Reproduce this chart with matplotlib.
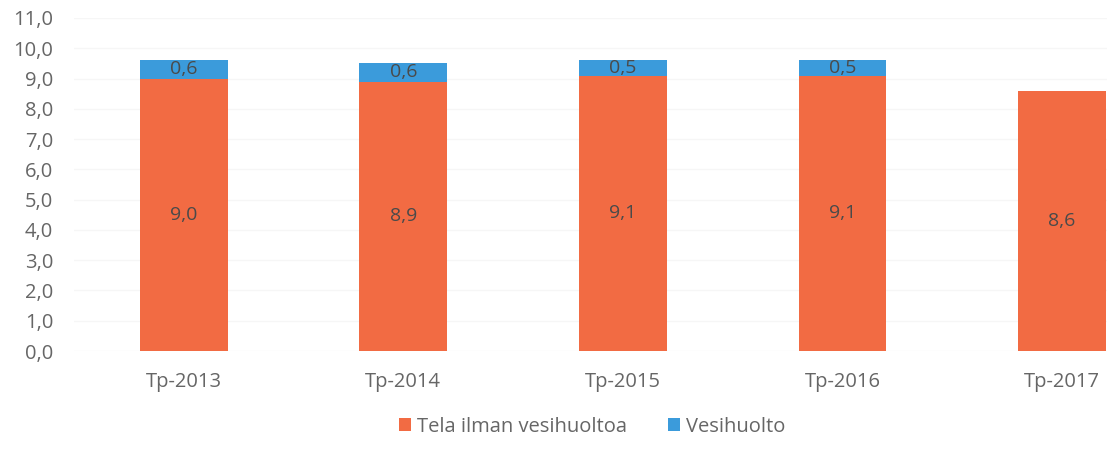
import matplotlib
matplotlib.use("Agg")
import matplotlib.pyplot as plt
import numpy as np

categories = ["Tp-2013", "Tp-2014", "Tp-2015", "Tp-2016", "Tp-2017"]
tela = [9.0, 8.9, 9.1, 9.1, 8.6]
vesihuolto = [0.6, 0.6, 0.5, 0.5, 0.0]
yticks = np.arange(0, 11.5, 1.0)

orange = "#F26B43"
blue = "#3B9BDB"
grey = "#666666"

plt.rcParams['font.family'] = ['Open Sans', 'DejaVu Sans']

fig = plt.figure(figsize=(11.07, 4.5), dpi=100)
ax = fig.add_axes([74 / 1107, 99 / 450, 1 - 74 / 1107, (351 - 18) / 450])

x = np.arange(len(categories))
width = 0.4
b1 = ax.bar(x, tela, width, color=orange, label="Tela ilman vesihuoltoa", zorder=2)
b2 = ax.bar(x, vesihuolto, width, bottom=tela, color=blue, label="Vesihuolto", zorder=2)

# data labels, comma decimal
for xi, t, v in zip(x, tela, vesihuolto):
    ax.text(xi, t / 2, f"{t:.1f}".replace(".", ","), ha="center", va="center",
            fontsize=14, color="#4a4a4a", zorder=3)
    if v > 0:
        ax.text(xi, t + v / 2, f"{v:.1f}".replace(".", ","), ha="center", va="center",
                fontsize=14, color="#4a4a4a", zorder=3)

ax.set_ylim(0, 11)
ax.set_xlim(-0.5, 4.5 - 65 / 220)
ax.set_yticks(yticks)
ax.set_yticklabels([f"{t:.1f}".replace(".", ",") for t in yticks])
ax.set_xticks(x)
ax.set_xticklabels(categories)
ax.tick_params(axis="both", length=0, colors=grey, labelsize=14.5)
ax.tick_params(axis="y", pad=15)
ax.tick_params(axis="x", pad=15)
ax.yaxis.grid(True, color="#f6f6f6", linewidth=1, zorder=0)
for s in ax.spines.values():
    s.set_visible(False)

fig.legend(handles=[b1, b2], loc="center", bbox_to_anchor=(0.535, 0.052), ncol=2,
           frameon=False, fontsize=14.5, handlelength=0.6, handleheight=0.6,
           handletextpad=0.3, columnspacing=2.0, labelcolor=grey)

fig.savefig("out.png", dpi=100)
